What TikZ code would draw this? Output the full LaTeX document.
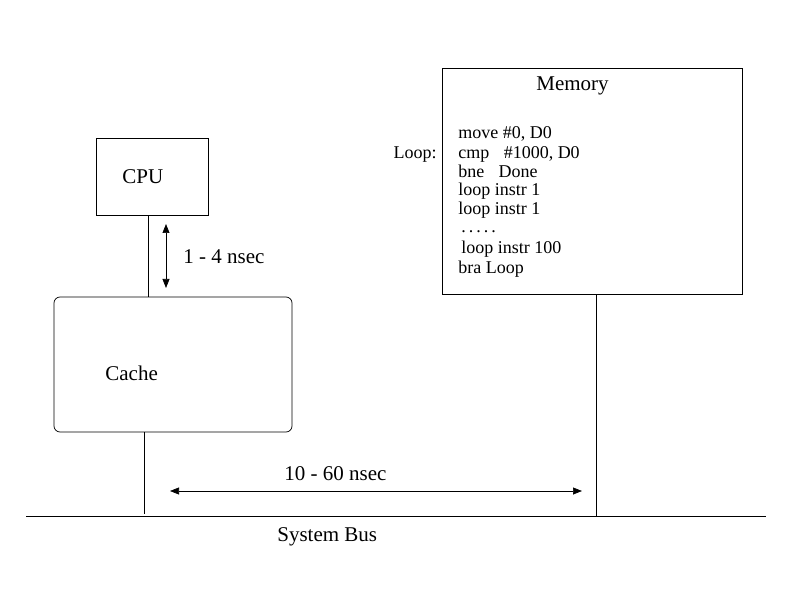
\documentclass[tikz,border=0pt]{standalone}
\usepackage{fontspec}
\setmainfont{Liberation Serif}
\usetikzlibrary{arrows.meta}
\begin{document}
\begin{tikzpicture}[x=1pt,y=-1pt,line width=0.7pt,
  box/.style={draw,inner sep=0pt},
  lbl/.style={anchor=base west,inner sep=0pt,font=\fontsize{21}{23}\selectfont},
  code/.style={anchor=base west,inner sep=0pt,font=\fontsize{18}{20}\selectfont},
  dbl/.style={{Triangle[length=9pt,width=7pt]}-{Triangle[length=9pt,width=7pt]}}]
\useasboundingbox (0,0) rectangle (792,612);
% boxes
\node[box,minimum width=112pt,minimum height=77pt] (cpu) at (152,176.5) {};
\node[box,rounded corners=6pt,minimum width=238pt,minimum height=135pt] (cache) at (173,364.5) {};
\node[box,minimum width=300pt,minimum height=226pt] (mem) at (592,181) {};
% labels
\node[lbl] (cpul) at (122,183.5) {CPU};
\node[lbl] (cachel) at (105,380) {Cache};
\node[lbl] (meml) at (536,91) {Memory};
\node[lbl] (t14) at (183,264) {1 - 4 nsec};
\node[lbl] (t1060) at (284,480) {10 - 60 nsec};
\node[lbl] (bus) at (277,541) {System Bus};
% memory code
\node[code,anchor=base east] (loopl) at (437,159) {Loop:};
\node[code] (c1) at (458,139) {move \#0, D0};
\node[code] (c2) at (458,159) {cmp\hspace{0.8em}\#1000, D0};
\node[code] (c3) at (458,178) {bne\hspace{0.8em}Done};
\node[code] (c4) at (458,196) {loop instr 1};
\node[code] (c5) at (458,215) {loop instr 1};
\node[code] (c6) at (461,233) {.\,.\,.\,.\,.};
\node[code] (c7) at (461,254) {loop instr 100};
\node[code] (c8) at (458,273) {bra Loop};
% bus
\coordinate (busL) at (26,516);
\coordinate (busR) at (766,516);
\draw (busL) -- (busR);
% connectors
\draw ([xshift=-4pt]cpu.south) -- ([xshift=-4pt]cpu.south |- cache.north);
\draw ([xshift=-29pt]cache.south) -- ([xshift=-29pt,yshift=2pt]cache.south |- busL);
\draw ([xshift=4pt]mem.south) -- ([xshift=4pt]mem.south |- busL);
% timing arrows
\coordinate (a1) at (166,224);
\coordinate (a2) at (166,288);
\draw[dbl] (a1) -- (a2);
\coordinate (b1) at (170,491);
\coordinate (b2) at (582,491);
\draw[dbl] (b1) -- (b2);
\end{tikzpicture}
\end{document}
